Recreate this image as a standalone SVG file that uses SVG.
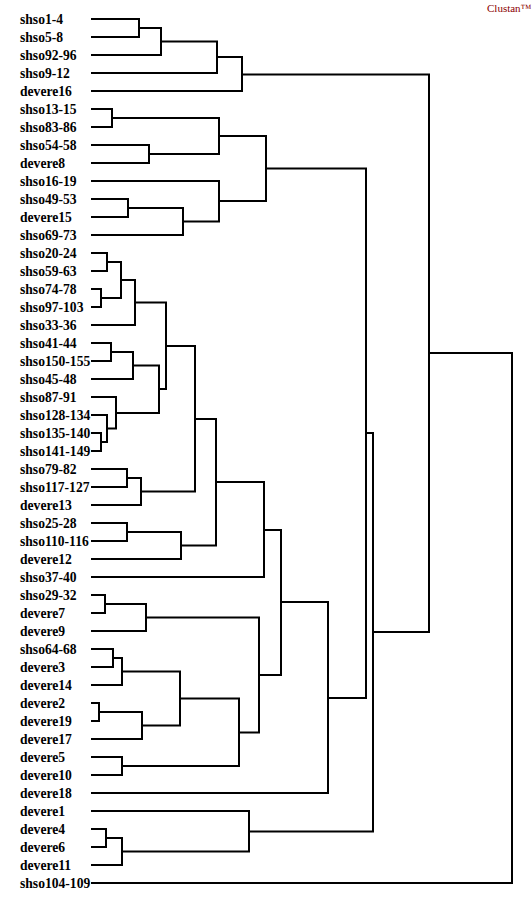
<svg xmlns="http://www.w3.org/2000/svg" width="532" height="922" viewBox="0 0 532 922">
<style>
.lbl{font-family:"Liberation Serif","Times New Roman",serif;font-weight:bold;font-size:13.6px;fill:#000}
.brand{font-family:"Liberation Serif","Times New Roman",serif;font-size:11px;fill:#8b0000}
.ln{fill:none;stroke:#000;stroke-width:2;stroke-linecap:square;stroke-linejoin:miter}
</style>
<rect width="532" height="922" fill="#fff"/>
<text class="brand" x="487" y="12">Clustan™</text>
<g id="leaves">
<g id="n0"><text class="lbl" x="20" y="23.5">shso1-4</text></g>
<g id="n1"><text class="lbl" x="20" y="41.5">shso5-8</text></g>
<g id="n2"><text class="lbl" x="20" y="59.5">shso92-96</text></g>
<g id="n3"><text class="lbl" x="20" y="77.5">shso9-12</text></g>
<g id="n4"><text class="lbl" x="20" y="95.5">devere16</text></g>
<g id="n5"><text class="lbl" x="20" y="113.5">shso13-15</text></g>
<g id="n6"><text class="lbl" x="20" y="131.5">shso83-86</text></g>
<g id="n7"><text class="lbl" x="20" y="149.5">shso54-58</text></g>
<g id="n8"><text class="lbl" x="20" y="167.5">devere8</text></g>
<g id="n9"><text class="lbl" x="20" y="185.5">shso16-19</text></g>
<g id="n10"><text class="lbl" x="20" y="203.5">shso49-53</text></g>
<g id="n11"><text class="lbl" x="20" y="221.5">devere15</text></g>
<g id="n12"><text class="lbl" x="20" y="239.5">shso69-73</text></g>
<g id="n13"><text class="lbl" x="20" y="257.5">shso20-24</text></g>
<g id="n14"><text class="lbl" x="20" y="275.5">shso59-63</text></g>
<g id="n15"><text class="lbl" x="20" y="293.5">shso74-78</text></g>
<g id="n16"><text class="lbl" x="20" y="311.5">shso97-103</text></g>
<g id="n17"><text class="lbl" x="20" y="329.5">shso33-36</text></g>
<g id="n18"><text class="lbl" x="20" y="347.5">shso41-44</text></g>
<g id="n19"><text class="lbl" x="20" y="365.5">shso150-155</text></g>
<g id="n20"><text class="lbl" x="20" y="383.5">shso45-48</text></g>
<g id="n21"><text class="lbl" x="20" y="401.5">shso87-91</text></g>
<g id="n22"><text class="lbl" x="20" y="419.5">shso128-134</text></g>
<g id="n23"><text class="lbl" x="20" y="437.5">shso135-140</text></g>
<g id="n24"><text class="lbl" x="20" y="455.5">shso141-149</text></g>
<g id="n25"><text class="lbl" x="20" y="473.5">shso79-82</text></g>
<g id="n26"><text class="lbl" x="20" y="491.5">shso117-127</text></g>
<g id="n27"><text class="lbl" x="20" y="509.5">devere13</text></g>
<g id="n28"><text class="lbl" x="20" y="527.5">shso25-28</text></g>
<g id="n29"><text class="lbl" x="20" y="545.5">shso110-116</text></g>
<g id="n30"><text class="lbl" x="20" y="563.5">devere12</text></g>
<g id="n31"><text class="lbl" x="20" y="581.5">shso37-40</text></g>
<g id="n32"><text class="lbl" x="20" y="599.5">shso29-32</text></g>
<g id="n33"><text class="lbl" x="20" y="617.5">devere7</text></g>
<g id="n34"><text class="lbl" x="20" y="635.5">devere9</text></g>
<g id="n35"><text class="lbl" x="20" y="653.5">shso64-68</text></g>
<g id="n36"><text class="lbl" x="20" y="671.5">devere3</text></g>
<g id="n37"><text class="lbl" x="20" y="689.5">devere14</text></g>
<g id="n38"><text class="lbl" x="20" y="707.5">devere2</text></g>
<g id="n39"><text class="lbl" x="20" y="725.5">devere19</text></g>
<g id="n40"><text class="lbl" x="20" y="743.5">devere17</text></g>
<g id="n41"><text class="lbl" x="20" y="761.5">devere5</text></g>
<g id="n42"><text class="lbl" x="20" y="779.5">devere10</text></g>
<g id="n43"><text class="lbl" x="20" y="797.5">devere18</text></g>
<g id="n44"><text class="lbl" x="20" y="815.5">devere1</text></g>
<g id="n45"><text class="lbl" x="20" y="833.5">devere4</text></g>
<g id="n46"><text class="lbl" x="20" y="851.5">devere6</text></g>
<g id="n47"><text class="lbl" x="20" y="869.5">devere11</text></g>
<g id="n48"><text class="lbl" x="20" y="887.5">shso104-109</text></g>
</g>
<g id="connectors" class="ln">
<path d="M92 19H139V37H92"/>
<path d="M139 28H161V55H92"/>
<path d="M161 41.5H217V73H92"/>
<path d="M217 57H242V91H92"/>
<path d="M92 109H112V127H92"/>
<path d="M92 145H149V163H92"/>
<path d="M112 118H219V154H149"/>
<path d="M92 199H128V217H92"/>
<path d="M128 208H183V235H92"/>
<path d="M92 181H219V221.5H183"/>
<path d="M219 136H266V201H219"/>
<path d="M92 253H107V271H92"/>
<path d="M92 289H101V307H92"/>
<path d="M107 262H121V298H101"/>
<path d="M121 280H135V325H92"/>
<path d="M92 343H111V361H92"/>
<path d="M111 352H133V379H92"/>
<path d="M92 433H101V451H92"/>
<path d="M92 415H107V442H101"/>
<path d="M92 397H116V428.5H107"/>
<path d="M133 365.5H159V413H116"/>
<path d="M135 302.5H166V389H159"/>
<path d="M92 469H127V487H92"/>
<path d="M127 478H141V505H92"/>
<path d="M166 346H195V491.5H141"/>
<path d="M92 523H127V541H92"/>
<path d="M127 532H181V559H92"/>
<path d="M195 419H216V545.5H181"/>
<path d="M216 482H264V577H92"/>
<path d="M92 595H105V613H92"/>
<path d="M105 604H146V631H92"/>
<path d="M92 649H113V667H92"/>
<path d="M113 658H122V685H92"/>
<path d="M92 703H99V721H92"/>
<path d="M99 712H142V739H92"/>
<path d="M122 671.5H180V725.5H142"/>
<path d="M92 757H122V775H92"/>
<path d="M180 698.5H239V766H122"/>
<path d="M146 617.5H259V732.5H239"/>
<path d="M264 530H281V675H259"/>
<path d="M281 602H328V793H92"/>
<path d="M266 168.5H366V698H328"/>
<path d="M92 829H106V847H92"/>
<path d="M106 838H122V865H92"/>
<path d="M92 811H249V851.5H122"/>
<path d="M366 433H373V831.5H249"/>
<path d="M242 74.5H429V632H373"/>
<path d="M429 353H512V883H92"/>
</g>
</svg>
